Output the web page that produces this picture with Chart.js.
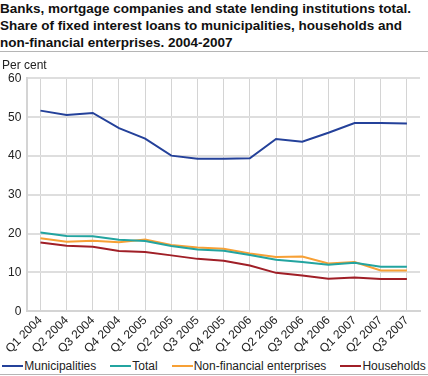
<!DOCTYPE html>
<html>
<head>
<meta charset="utf-8">
<script src="https://cdn.jsdelivr.net/npm/chart.js@4"></script>
<style>
  body { margin: 0; width: 428px; height: 376px; background: #fff; font-family: "Liberation Sans", Arial, sans-serif; color: #222; }
  #title { height: 52px; border-bottom: 1px solid #b5b5b5; font-weight: bold; font-size: 13.5px; line-height: 17px; color: #111; padding-top: 0px; box-sizing: border-box; white-space: nowrap; }
  #wrap { position: relative; width: 428px; height: 306px; }
  #legend { height: 16px; border-bottom: 1px solid #b5b5b5; display: flex; justify-content: center; align-items: center; font-size: 12px; white-space: nowrap; }
  #legend span.item { display: flex; align-items: center; margin: 0 7px; }
  #legend span.swatch { display: inline-block; width: 21px; height: 2px; margin-right: 1px; }
</style>
</head>
<body>
<div id="title">Banks, mortgage companies and state lending institutions total.<br>Share of fixed interest loans to municipalities, households and<br>non-financial enterprises. 2004-2007</div>
<div id="wrap"><canvas id="loans"></canvas></div>
<div id="legend"></div>
<script>
// Quarters on the x-axis
const quarters = ['Q1 2004', 'Q2 2004', 'Q3 2004', 'Q4 2004', 'Q1 2005', 'Q2 2005', 'Q3 2005', 'Q4 2005',
                  'Q1 2006', 'Q2 2006', 'Q3 2006', 'Q4 2006', 'Q1 2007', 'Q2 2007', 'Q3 2007'];

// Share of fixed interest loans, per cent
const municipalities = [51.7, 50.6, 51.1, 47.2, 44.5, 40.1, 39.3, 39.3, 39.4, 44.4, 43.7, 46.0, 48.5, 48.5, 48.4];
const total          = [20.3, 19.4, 19.3, 18.4, 18.1, 16.8, 15.9, 15.6, 14.5, 13.3, 12.7, 12.0, 12.5, 11.5, 11.5];
const nonFinancial   = [18.8, 17.9, 18.2, 17.8, 18.5, 17.1, 16.4, 16.1, 14.9, 14.0, 14.1, 12.3, 12.7, 10.5, 10.5];
const households     = [17.7, 16.9, 16.6, 15.5, 15.3, 14.4, 13.5, 13.0, 11.8, 9.9, 9.2, 8.4, 8.7, 8.3, 8.3];

// y-axis ticks
const yTicks = [0, 10, 20, 30, 40, 50, 60];

const font = '"Liberation Sans", Arial, sans-serif';

function line(label, data, color) {
    return {
        label: label,
        data: data,
        borderColor: color,
        backgroundColor: color,
        borderWidth: 2,
        pointRadius: 0,
        tension: 0
    };
}

const ctx = document.getElementById('loans').getContext('2d');

const chart = new Chart(ctx, {
    type: 'line',
    data: {
        labels: quarters,
        datasets: [
            line('Municipalities', municipalities, '#24419a'),
            line('Total', total, '#23a4a0'),
            line('Non-financial enterprises', nonFinancial, '#f7a035'),
            line('Households', households, '#a01f27')
        ]
    },
    options: {
        responsive: true,
        maintainAspectRatio: false,
        animation: false,
        layout: { padding: { left: 2, right: 8, top: 0, bottom: 0 } },
        plugins: {
            title: {
                display: true,
                text: 'Per cent',
                align: 'start',
                color: '#222',
                font: { size: 12, weight: 'normal', family: font },
                padding: { top: 6, bottom: 6 }
            },
            // legend is drawn as html below the canvas so it fits on one row
            legend: { display: false },
            tooltip: { enabled: false }
        },
        scales: {
            x: {
                offset: true,
                grid: { offset: false, color: '#d4d4d4', lineWidth: 1, drawTicks: false },
                border: { color: '#d4d4d4', width: 2 },
                ticks: {
                    minRotation: 45,
                    maxRotation: 45,
                    autoSkip: false,
                    padding: 2,
                    color: '#222',
                    font: { size: 12, family: font }
                }
            },
            y: {
                min: yTicks[0],
                max: yTicks[yTicks.length - 1],
                afterBuildTicks: axis => { axis.ticks = yTicks.map(v => ({ value: v })); },
                grid: { color: '#dedede', lineWidth: 2, drawTicks: false },
                border: { color: '#d4d4d4', width: 2 },
                ticks: {
                    padding: 6,
                    color: '#222',
                    font: { size: 12, family: font }
                }
            }
        }
    }
});

// build the legend from the chart's datasets
const legend = document.getElementById('legend');
chart.data.datasets.forEach(ds => {
    const item = document.createElement('span');
    item.className = 'item';
    const swatch = document.createElement('span');
    swatch.className = 'swatch';
    swatch.style.background = ds.borderColor;
    item.appendChild(swatch);
    item.appendChild(document.createTextNode(ds.label));
    legend.appendChild(item);
});
</script>
</body>
</html>
